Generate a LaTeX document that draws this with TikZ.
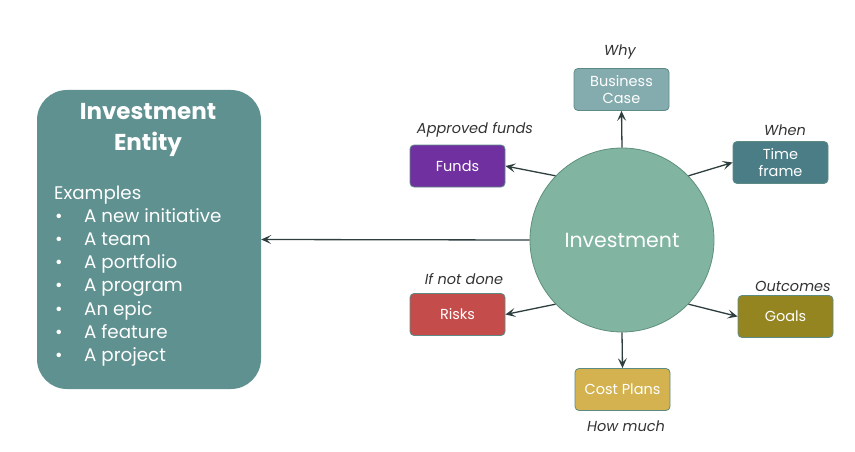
\documentclass[tikz,border=0pt]{standalone}
\usepackage{fontspec}
\setmainfont{Poppins}
\usetikzlibrary{arrows.meta}
\definecolor{entityc}{HTML}{5F9190}
\definecolor{circc}{HTML}{82B5A1}
\definecolor{circb}{HTML}{5E8F7C}
\definecolor{bizc}{HTML}{84ABAE}
\definecolor{fundc}{HTML}{7030A0}
\definecolor{timec}{HTML}{4A7D86}
\definecolor{riskc}{HTML}{C44C4B}
\definecolor{goalc}{HTML}{948521}
\definecolor{costc}{HTML}{D4B24F}
\definecolor{boxb}{HTML}{5E8A84}
\definecolor{arrc}{HTML}{2E3E3E}
\definecolor{labc}{HTML}{333333}
\tikzset{
  box/.style={rectangle, rounded corners=4pt, minimum width=95pt, minimum height=42pt,
    draw=boxb, line width=0.8pt, text=white, align=center, inner sep=1pt,
    font=\fontsize{14.5}{17}\selectfont},
  lab/.style={text=labc, font=\fontsize{14.5}{17}\selectfont\itshape, inner sep=0pt},
  arr/.style={draw=arrc, line width=1.3pt, -{Stealth[length=10pt,width=9pt,inset=4.5pt]}},
  item/.style={text=white, anchor=west, inner sep=0pt, text height=13pt, text depth=4pt,
    font=\fontsize{18.3}{22}\selectfont},
}
\begin{document}
\begin{tikzpicture}[x=1pt,y=-1pt]
\useasboundingbox (0,0) rectangle (855,452);
% left entity
\node[rectangle, rounded corners=30pt, fill=entityc, minimum width=224pt, minimum height=299pt, inner sep=0pt] (entity) at (149,239.5) {};
\node[text=white, align=center, font=\fontsize{23}{31}\selectfont\bfseries, inner sep=0pt] (title) at (148,129.5) {Investment\\Entity};
\node[item] (ex) at (54,195) {Examples};
\foreach \t [count=\i] in {A new initiative, A team, A portfolio, A program, An epic, A feature, A project}{
  \node[item] (b\i) at (55,{195+23.1*\i}) {•};
  \node[item] (it\i) at (84,{195+23.1*\i}) {\t};
}
% circle
\node[circle, fill=circc, draw=circb, line width=0.8pt, minimum size=184pt, inner sep=0pt,
  text=white, font=\fontsize{20.5}{24}\selectfont] (inv) at (622,240) {Investment};
% boxes
\node[box, fill=bizc] (biz) at (621.5,89.5) {Business\\Case};
\node[box, fill=fundc] (funds) at (457.5,166) {Funds};
\node[box, fill=timec] (time) at (780.5,162.5) {Time\\frame};
\node[box, fill=riskc] (risks) at (457.5,314.5) {Risks};
\node[box, fill=goalc] (goals) at (785.5,316.5) {Goals};
\node[box, fill=costc] (cost) at (622.5,389.5) {Cost Plans};
% labels
\node[lab] (lwhy) at (620,52) {Why};
\node[lab] (lfund) at (475,130) {Approved funds};
\node[lab] (lwhen) at (785,130) {When};
\node[lab] (lrisk) at (464,279) {If not done};
\node[lab] (lout) at (793,286) {Outcomes};
\node[lab] (lhow) at (626,426) {How much};
% arrows
\draw[arr] (inv.west) -- (entity.east);
\draw[arr] (inv.north) -- (biz.south);
\draw[arr] (inv.136) -- (funds.east);
\draw[arr] (inv.44) -- (time.west);
\draw[arr] (inv.224) -- (risks.east);
\draw[arr] (inv.-44) -- (goals.west);
\draw[arr] (inv.south) -- (cost.north);
\end{tikzpicture}
\end{document}
